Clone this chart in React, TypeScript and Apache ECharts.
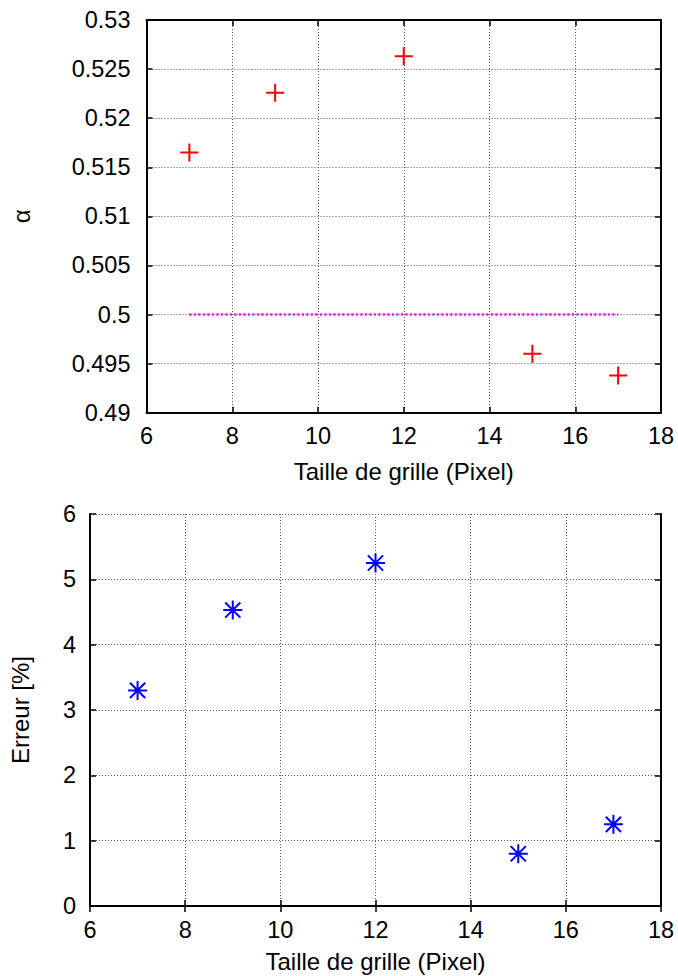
import React, { useEffect, useRef } from "react";
import * as echarts from "echarts";

const gridSizes = [7, 9, 12, 15, 17];
const alphaValues = [0.5165, 0.5226, 0.5263, 0.496, 0.4938];
const refLineX = [7, 17];
const refLineY = [0.5, 0.5];
const errorValues = [3.3, 4.53, 5.25, 0.8, 1.25];

const xTitle = "Taille de grille (Pixel)";
const alphaTitle = "α";
const errorTitle = "Erreur [%]";

const FONT = "'Liberation Sans', Arial, sans-serif";
const FS = 23.5;
const TFS = 24;

const plusPath = "path://M10,0L10,20M0,10L20,10";
const starPath = "path://M10,0L10,20M0,10L20,10M2,2L18,18M18,2L2,18";

export default function App() {
  const ref = useRef<HTMLDivElement>(null);
  useEffect(() => {
    document.body.style.margin = "0";
    const chart = echarts.init(ref.current!, undefined, { renderer: "svg" });
    const axisLine = { show: true, lineStyle: { color: "#000", width: 2 } };
    const axisTick = { show: true, inside: true, length: 6, lineStyle: { color: "#000", width: 1.5 } };
    const split = { show: true, lineStyle: { color: "#555", width: 1, type: [1, 2] as any } };
    const label = { color: "#000", fontFamily: FONT, fontSize: FS };
    const mainX = (gi: number, margin: number, gap: number) => ({
      type: "value",
      gridIndex: gi,
      position: "bottom",
      min: 6,
      max: 18,
      interval: 2,
      axisLine,
      axisTick,
      splitLine: split,
      axisLabel: { ...label, margin },
      name: xTitle,
      nameLocation: "middle",
      nameGap: gap,
      nameTextStyle: { color: "#000", fontFamily: FONT, fontSize: TFS },
    });
    const topX = (gi: number) => ({
      type: "value",
      gridIndex: gi,
      position: "top",
      min: 6,
      max: 18,
      interval: 2,
      axisLine,
      axisTick,
      splitLine: { show: false },
      axisLabel: { show: false },
    });
    const rightY = (gi: number, min: number, max: number, interval: number) => ({
      type: "value",
      gridIndex: gi,
      position: "right",
      min,
      max,
      interval,
      axisLine,
      axisTick,
      splitLine: { show: false },
      axisLabel: { show: false },
    });
    chart.setOption({
      animation: false,
      backgroundColor: "#fff",
      grid: [
        { left: 146.5, top: 20, right: 17, height: 392.7, containLabel: false },
        { left: 90, top: 514, right: 17, height: 392, containLabel: false },
      ],
      xAxis: [mainX(0, 11, 47), topX(0), mainX(1, 12, 43), topX(1)],
      yAxis: [
        {
          type: "value",
          gridIndex: 0,
          position: "left",
          min: 0.49,
          max: 0.53,
          interval: 0.005,
          axisLine,
          axisTick,
          splitLine: split,
          axisLabel: { ...label, margin: 16, formatter: (v: number) => String(+v.toFixed(3)) },
          name: alphaTitle,
          nameLocation: "middle",
          nameRotate: 90,
          nameGap: 113,
          nameTextStyle: { color: "#000", fontFamily: FONT, fontSize: TFS },
        },
        rightY(0, 0.49, 0.53, 0.005),
        {
          type: "value",
          gridIndex: 1,
          position: "left",
          min: 0,
          max: 6,
          interval: 1,
          axisLine,
          axisTick,
          splitLine: split,
          axisLabel: { ...label, margin: 14 },
          name: errorTitle,
          nameLocation: "middle",
          nameRotate: 90,
          nameGap: 58,
          nameTextStyle: { color: "#000", fontFamily: FONT, fontSize: TFS },
        },
        rightY(1, 0, 6, 1),
      ],
      series: [
        {
          type: "line",
          xAxisIndex: 0,
          yAxisIndex: 0,
          data: refLineX.map((x, i) => [x, refLineY[i]]),
          symbol: "none",
          lineStyle: { color: "#ff00ff", width: 2.5, type: [2, 2.5] as any, opacity: 1 },
          z: 3,
        },
        {
          type: "scatter",
          xAxisIndex: 0,
          yAxisIndex: 0,
          data: gridSizes.map((x, i) => [x, alphaValues[i]]),
          symbol: plusPath,
          symbolSize: 18,
          itemStyle: { color: "none", borderColor: "#ff0000", borderWidth: 2, opacity: 1 },
          z: 4,
        },
        {
          type: "scatter",
          xAxisIndex: 2,
          yAxisIndex: 2,
          data: gridSizes.map((x, i) => [x, errorValues[i]]),
          symbol: starPath,
          symbolSize: 19,
          itemStyle: { color: "none", borderColor: "#0000ff", borderWidth: 2, opacity: 1 },
          z: 4,
        },
      ],
    });
    return () => chart.dispose();
  }, []);
  return <div ref={ref} style={{ width: 678, height: 976 }} />;
}
